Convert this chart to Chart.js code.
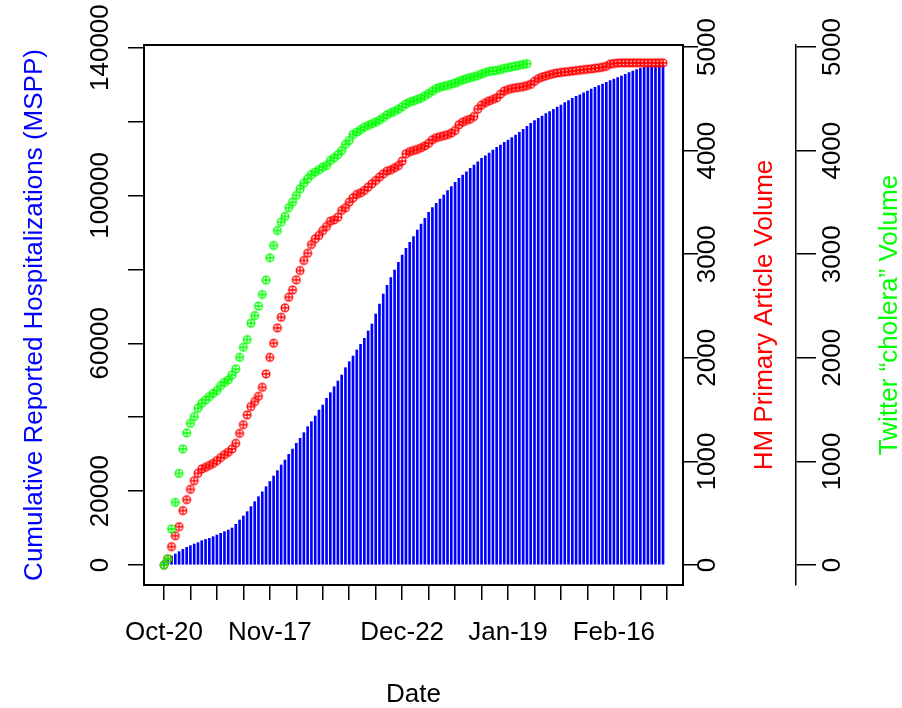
<!DOCTYPE html>
<html>
<head>
<meta charset="utf-8">
<script src="https://cdn.jsdelivr.net/npm/chart.js@4.4.0/dist/chart.umd.min.js"></script>
<style>
  html, body { margin: 0; padding: 0; background: #fff; }
</style>
</head>
<body>
<canvas id="myChart" width="902" height="708"></canvas>
<script>
// days counted from Oct-20, one value per day
const hospitalizations = [
    1200, 1800, 2430, 2980, 3610, 4240, 4780, 5230, 5680, 6040,
    6580, 6940, 7220, 7670, 8120, 8570, 9020, 9470, 10010, 11000,
    12180, 13260, 14430, 15790, 17140, 18490, 19800, 21190, 22600, 24080,
    25520, 27060, 28410, 29950, 31390, 32920, 34280, 35810, 37430, 38780,
    40320, 41940, 43300, 45100, 46630, 48250, 49790, 51410, 53390, 55020,
    56560, 58180, 59710, 61340, 63320, 65210, 67920, 70630, 73300, 75650,
    77750, 79830, 81910, 83890, 85700, 87320, 88840, 90650, 92270, 93820,
    95440, 96690, 97870, 99040, 100120, 101290, 102370, 103550, 104640, 105530,
    106420, 107350, 108240, 109130, 110050, 110750, 111490, 112300, 113030, 113650,
    114380, 115000, 115630, 116360, 117090, 117900, 118700, 119500, 120230, 120870,
    121500, 122120, 122670, 123310, 123940, 124480, 125100, 125640, 126290, 126820,
    127260, 127800, 128260, 128810, 129260, 129710, 130160, 130620, 131060, 131510,
    131870, 132320, 132780, 133220, 133680, 134030, 134400, 134650, 134850, 135000,
    135150, 135250, 135300
];

const hmArticles = [
    0, 60, 177, 283, 370, 525, 631, 731, 814, 885,
    927, 943, 962, 981, 1008, 1037, 1066, 1088, 1120, 1175,
    1271, 1355, 1449, 1529, 1578, 1629, 1716, 1845, 2005, 2141,
    2289, 2392, 2483, 2585, 2656, 2753, 2843, 2940, 3010, 3094,
    3149, 3181, 3229, 3268, 3319, 3333, 3358, 3423, 3449, 3503,
    3545, 3577, 3593, 3616, 3648, 3681, 3712, 3744, 3777, 3802,
    3815, 3835, 3855, 3900, 3970, 3990, 4002, 4012, 4028, 4045,
    4070, 4105, 4125, 4135, 4145, 4154, 4170, 4195, 4250, 4275,
    4292, 4305, 4330, 4400, 4440, 4462, 4480, 4495, 4510, 4545,
    4575, 4590, 4600, 4607, 4612, 4618, 4628, 4640, 4670, 4695,
    4710, 4722, 4733, 4743, 4750, 4755, 4760, 4764, 4768, 4773,
    4778, 4782, 4786, 4790, 4795, 4800, 4806, 4815, 4835, 4842,
    4846, 4848, 4848, 4848, 4848, 4848, 4848, 4848, 4848, 4848,
    4848, 4848, 4848
];

const twitterCholera = [
    0, 58, 348, 605, 885, 1121, 1275, 1368, 1433, 1513,
    1561, 1594, 1626, 1658, 1684, 1732, 1764, 1787, 1835, 1893,
    2005, 2102, 2176, 2334, 2408, 2500, 2611, 2750, 2966, 3084,
    3229, 3310, 3365, 3449, 3503, 3568, 3632, 3686, 3729, 3770,
    3793, 3816, 3841, 3857, 3906, 3932, 3961, 4002, 4060, 4099,
    4157, 4179, 4202, 4227, 4244, 4260, 4276, 4295, 4320, 4345,
    4366, 4380, 4400, 4425, 4450, 4469, 4480, 4495, 4507, 4530,
    4552, 4575, 4600, 4612, 4622, 4630, 4642, 4652, 4668, 4683,
    4695, 4705, 4715, 4725, 4740, 4755, 4765, 4770, 4775, 4783,
    4795, 4802, 4810, 4817, 4825, 4832, 4840
];

const tickDays = [0, 28, 63, 91, 119];
const tickLabels = ['Oct-20', 'Nov-17', 'Dec-22', 'Jan-19', 'Feb-16'];
const hospTicks = [0, 20000, 40000, 60000, 80000, 100000, 120000, 140000];
const hospTickLabels = ['0', '20000', '', '60000', '', '100000', '', '140000'];
const volumeTicks = [0, 1000, 2000, 3000, 4000, 5000];

const FONT = { family: '"Liberation Sans", Arial, sans-serif', size: 26 };

function toPoints(values) {
    return values.map((v, i) => ({ x: i, y: v }));
}

// circle with a plus inside, like R's pch = 10
function circlePlus(color) {
    const c = document.createElement('canvas');
    c.width = 12;
    c.height = 12;
    const g = c.getContext('2d');
    g.strokeStyle = color;
    g.lineWidth = 1.3;
    g.beginPath();
    g.arc(6, 6, 3.8, 0, Math.PI * 2);
    g.stroke();
    g.beginPath();
    g.moveTo(6, 2.2); g.lineTo(6, 9.8);
    g.moveTo(2.2, 6); g.lineTo(9.8, 6);
    g.stroke();
    return c;
}

const boxPlugin = {
    id: 'box',
    afterDatasetsDraw(chart) {
        const { ctx, chartArea: a } = chart;
        ctx.save();
        ctx.strokeStyle = '#000';
        ctx.lineWidth = 2;
        ctx.strokeRect(a.left, a.top, a.right - a.left, a.bottom - a.top);
        ctx.restore();
    }
};

// right-hand titles read bottom to top, as in the original
const rightTitles = {
    id: 'rightTitles',
    afterDraw(chart) {
        const ctx = chart.ctx;
        const mid = (chart.chartArea.top + chart.chartArea.bottom) / 2;
        ctx.save();
        ctx.font = FONT.size + 'px ' + FONT.family;
        ctx.textAlign = 'center';
        ctx.textBaseline = 'middle';
        [['HM Primary Article Volume', '#ff0000', 765],
         ['Twitter \u201ccholera\u201d Volume', '#00ff00', 890]].forEach(([t, col, x]) => {
            ctx.save();
            ctx.translate(x, mid);
            ctx.rotate(-Math.PI / 2);
            ctx.fillStyle = col;
            ctx.fillText(t, 0, 0);
            ctx.restore();
        });
        ctx.restore();
    }
};

const tickGrid = (len) => ({
    drawOnChartArea: false,
    drawTicks: true,
    offset: false,
    tickLength: len,
    color: '#000',
    lineWidth: 1.5
});

const yTicks = (pad, fmt) => ({
    autoSkip: false,
    minRotation: 90,
    maxRotation: 90,
    crossAlign: 'center',
    padding: pad,
    color: '#000',
    font: FONT,
    callback: fmt
});

var ctx = document.getElementById('myChart').getContext('2d');
var myChart = new Chart(ctx, {
    type: 'bar',
    data: {
        datasets: [
            {
                type: 'scatter',
                label: 'Twitter "cholera" Volume',
                data: toPoints(twitterCholera),
                yAxisID: 'y2',
                pointStyle: circlePlus('#00ff00'),
                pointRadius: 4,
                order: 0
            },
            {
                type: 'scatter',
                label: 'HM Primary Article Volume',
                data: toPoints(hmArticles),
                yAxisID: 'y1',
                pointStyle: circlePlus('#ff0000'),
                pointRadius: 4,
                order: 1
            },
            {
                type: 'bar',
                label: 'Cumulative Reported Hospitalizations (MSPP)',
                data: toPoints(hospitalizations),
                yAxisID: 'y',
                backgroundColor: '#0000ff',
                barThickness: 2,
                order: 2
            }
        ]
    },
    options: {
        responsive: false,
        animation: false,
        devicePixelRatio: 1,
        layout: { padding: { top: 45, left: 0, right: 0, bottom: 0 } },
        plugins: {
            legend: { display: false },
            tooltip: { enabled: false }
        },
        scales: {
            x: {
                type: 'linear',
                position: 'bottom',
                offset: false,
                min: -5.28,
                max: 137.28,
                border: { display: false },
                grid: tickGrid(15),
                ticks: {
                    stepSize: 7,
                    includeBounds: false,
                    autoSkip: false,
                    maxRotation: 0,
                    minRotation: 0,
                    padding: 17,
                    color: '#000',
                    font: FONT,
                    callback: (v) => {
                        const k = tickDays.indexOf(v);
                        return k < 0 ? '' : tickLabels[k];
                    }
                },
                title: {
                    display: true,
                    text: 'Date',
                    color: '#000',
                    font: FONT,
                    padding: { top: 0, bottom: -2 }
                },
                afterFit: (s) => { s.height = 123; }
            },
            y: {
                type: 'linear',
                position: 'left',
                min: -5410,
                max: 140710,
                border: { display: false },
                grid: tickGrid(16),
                ticks: yTicks(-16.4, (v) => {
                    const k = hospTicks.indexOf(v);
                    return k < 0 ? '' : hospTickLabels[k];
                }),
                afterBuildTicks: (s) => { s.ticks = hospTicks.map(v => ({ value: v })); },
                title: {
                    display: true,
                    text: 'Cumulative Reported Hospitalizations (MSPP)',
                    color: '#0000ff',
                    font: FONT,
                    padding: { top: 19, bottom: 0 }
                },
                afterFit: (s) => { s.width = 144; }
            },
            y1: {
                type: 'linear',
                position: 'right',
                min: -193,
                max: 5020,
                border: { display: false },
                grid: tickGrid(15),
                ticks: yTicks(-19, (v) => String(v)),
                afterBuildTicks: (s) => { s.ticks = volumeTicks.map(v => ({ value: v })); },
                afterFit: (s) => { s.width = 113; }
            },
            y2: {
                type: 'linear',
                position: 'right',
                min: -193,
                max: 5020,
                border: { display: true, color: '#000', width: 1.5 },
                grid: tickGrid(20),
                ticks: yTicks(-12, (v) => String(v)),
                afterBuildTicks: (s) => { s.ticks = volumeTicks.map(v => ({ value: v })); },
                afterFit: (s) => { s.width = 106; }
            }
        }
    },
    plugins: [boxPlugin, rightTitles]
});
</script>
</body>
</html>
